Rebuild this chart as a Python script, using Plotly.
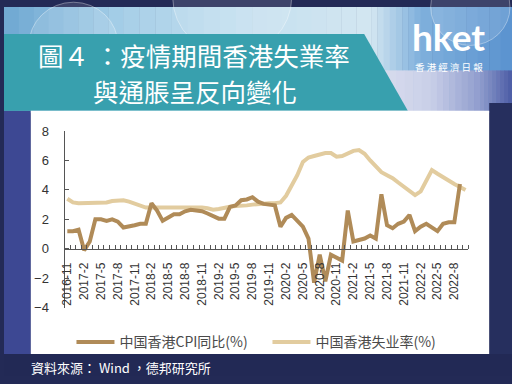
import plotly.graph_objects as go

# ---------------- data ----------------
months = [f"{2016 + (10 + i) // 12}-{(10 + i) % 12 + 1}" for i in range(72)]  # 2016-11 .. 2022-10

unemployment = [3.4, 3.15, 3.1, 3.1, 3.1, 3.1, 3.1, 3.15, 3.25, 3.3, 3.3, 3.2,
                3.05, 2.9, 2.8, 2.8, 2.8, 2.8, 2.8, 2.8, 2.8, 2.85, 2.85, 2.85,
                2.8, 2.75, 2.65, 2.7, 2.8, 2.85, 2.9, 2.9, 2.95, 3.0, 3.05, 3.05,
                3.1, 3.1, 3.15, 3.6, 4.3, 5.0, 5.9, 6.2, 6.3, 6.4, 6.5, 6.5,
                6.25, 6.3, 6.5, 6.65, 6.7, 6.45, 6.0, 5.6, 5.2, 5.0, 4.8, 4.5,
                4.2, 3.95, 3.65, 3.9, 4.6, 5.35, 5.1, 4.85, 4.6, 4.4, 4.2, 4.0]

cpi = [1.2, 1.2, 1.3, -0.1, 0.5, 2.0, 2.0, 1.9, 2.0, 1.85, 1.45, 1.5,
       1.6, 1.7, 1.7, 3.1, 2.6, 1.9, 2.1, 2.35, 2.35, 2.55, 2.65, 2.6,
       2.55, 2.4, 2.2, 2.05, 2.05, 2.85, 2.95, 3.3, 3.35, 3.5, 3.2, 3.05,
       3.0, 2.95, 1.5, 2.1, 2.3, 1.9, 1.5, 0.7, -2.3, -0.4, -2.2, -0.4,
       -0.6, -0.8, 2.6, 0.5, 0.6, 0.7, 0.9, 0.7, 3.7, 1.6, 1.4, 1.7,
       1.85, 2.3, 1.2, 1.5, 1.7, 1.45, 1.2, 1.7, 1.8, 1.8, 4.4, None]

tick_labels = months[::3]
y_ticks = [-4, -2, 0, 2, 4, 6, 8]

series_names = ["中国香港CPI同比(%)", "中国香港失业率(%)"]
title_lines = ["圖４ ：疫情期間香港失業率", "與通脹呈反向變化"]
source_text = "資料來源： Wind ，德邦研究所"

# ---------------- helpers (pixel -> paper) ----------------
W, H = 512, 384
def X(px):
    return px / W
def Y(py):
    return 1 - py / H

idx = list(range(len(months)))

fig = go.Figure()
fig.add_trace(go.Scatter(x=idx, y=unemployment, name=series_names[1], mode="lines",
                         line=dict(color="#E2CC9F", width=4), legendrank=2))
fig.add_trace(go.Scatter(x=idx, y=cpi, name=series_names[0], mode="lines",
                         line=dict(color="#B08B58", width=4), legendrank=1))

# ---------------- decorative background ----------------
shapes = []
def rect(x0, y0, x1, y1, color, **kw):
    d = dict(type="rect", xref="paper", yref="paper", x0=X(x0), x1=X(x1), y0=Y(y1), y1=Y(y0),
             fillcolor=color, line=dict(width=0), layer="below")
    d.update(kw)
    shapes.append(d)

def lerp(c1, c2, t):
    a = [int(c1[i:i + 2], 16) for i in (1, 3, 5)]
    b = [int(c2[i:i + 2], 16) for i in (1, 3, 5)]
    return "#%02x%02x%02x" % tuple(round(a[k] + (b[k] - a[k]) * t) for k in range(3))

# top band gradient (left -> right)
stops = [(0, "#6ea8d2"), (120, "#a7cfe8"), (250, "#c5e0ef"), (370, "#d3e6f1"), (420, "#7fb0dc"), (512, "#5a92cf")]
for k in range(len(stops) - 1):
    (xa, ca), (xb, cb) = stops[k], stops[k + 1]
    n = 8
    for j in range(n):
        x0 = xa + (xb - xa) * j / n
        x1 = xa + (xb - xa) * (j + 1) / n + 0.5
        rect(x0, 0, x1, 110, lerp(ca, cb, (j + 0.5) / n))
# lower right band below logo (lavender -> blue)
stops2 = [(360, "#dfe2f0"), (430, "#c9cfe8"), (480, "#8f9ccd"), (512, "#4b5ba4")]
for k in range(len(stops2) - 1):
    (xa, ca), (xb, cb) = stops2[k], stops2[k + 1]
    n = 8
    for j in range(n):
        x0 = xa + (xb - xa) * j / n
        x1 = xa + (xb - xa) * (j + 1) / n + 0.5
        rect(x0, 66, x1, 110, lerp(ca, cb, (j + 0.5) / n))
# soft bubbles
for (cx, cy, r) in [(70, 40, 45), (230, -10, 60), (470, 0, 40)]:
    shapes.append(dict(type="circle", xref="paper", yref="paper", x0=X(cx - r), x1=X(cx + r),
                       y0=Y(cy + r), y1=Y(cy - r), fillcolor="rgba(255,255,255,0.12)",
                       line=dict(color="rgba(255,255,255,0.35)", width=1), layer="below"))
# side and bottom frames
rect(0, 108, 27, 384, "#3d4893")
rect(489, 100, 512, 384, "#262f5e")
rect(0, 361, 512, 384, "#222955")
# teal title banner
shapes.append(dict(type="path", xref="paper", yref="paper",
                   path=f"M 0 {Y(28)} L {X(363)} {Y(28)} L {X(407)} {Y(108)} L 0 {Y(108)} Z",
                   fillcolor="#38a0ae", line=dict(width=0), layer="below"))
# white chart panel
rect(27, 108, 489, 361, "#ffffff")

# ---------------- axes geometry ----------------
ydom = [Y(313), Y(129)]
yrange = [-4, 8]
zero_pos = ydom[0] + (0 - yrange[0]) / (yrange[1] - yrange[0]) * (ydom[1] - ydom[0])

def note(text, px, py, size, family, xanchor="center", yanchor="middle", color="white"):
    return dict(text=text, x=X(px), y=Y(py), xref="paper", yref="paper",
                xanchor=xanchor, yanchor=yanchor, showarrow=False, align="center",
                font=dict(size=size, color=color, family=family))

fig.update_layout(
    width=W, height=H,
    margin=dict(l=0, r=0, t=0, b=0),
    paper_bgcolor="#232a56",
    plot_bgcolor="rgba(0,0,0,0)",
    shapes=shapes,
    showlegend=True,
    legend=dict(orientation="h", x=X(68), y=Y(349), xanchor="left", yanchor="middle",
                bgcolor="rgba(0,0,0,0)", font=dict(size=14, color="#4a4a4a",
                family="Noto Sans CJK SC"), itemwidth=38, entrywidth=143),
    xaxis=dict(domain=[X(61), X(468)], range=[-0.5, len(months) - 0.5],
               anchor="free", position=zero_pos,
               showline=True, linecolor="#555", linewidth=1,
               tickmode="array", tickvals=idx[::3], ticktext=tick_labels,
               tickangle=-90, ticks="", showgrid=False, zeroline=False,
               tickfont=dict(size=12, color="#333", family="Liberation Sans"),
               ticklabelstandoff=8,
               minor=dict(tickmode="linear", tick0=0.5, dtick=1, ticks="inside",
                          ticklen=4, tickcolor="#555", showgrid=False)),
    yaxis=dict(domain=ydom, range=yrange, tickvals=y_ticks,
               showline=True, linecolor="#555", linewidth=1,
               ticks="inside", ticklen=4, tickcolor="#555",
               showgrid=False, zeroline=False,
               tickfont=dict(size=13, color="#333", family="Liberation Sans"),
               ticklabelstandoff=12),
    annotations=[
        note(title_lines[0], 191, 49.5, 25.5, "Noto Sans CJK TC"),
        note(title_lines[1], 193, 87, 25.5, "Noto Sans CJK TC"),
        note("<b>hket</b>", 448, 56.5, 37, "Lato", yanchor="bottom"),
        note("香 港 經 濟 日 報", 448, 62.5, 9.5, "Noto Sans CJK TC"),
        note(source_text, 25, 375, 13, "Noto Sans CJK TC", xanchor="left"),
    ],
)

fig.write_html(
    "out.html",
    config={"displayModeBar": False},
    post_script=("document.documentElement.style.margin='0';"
                 "document.documentElement.style.overflow='hidden';"
                 "document.documentElement.style.height='384px';"
                 "document.body.style.margin='0';"
                 "document.body.style.overflow='hidden';"
                 "document.body.style.height='384px';"),
)
